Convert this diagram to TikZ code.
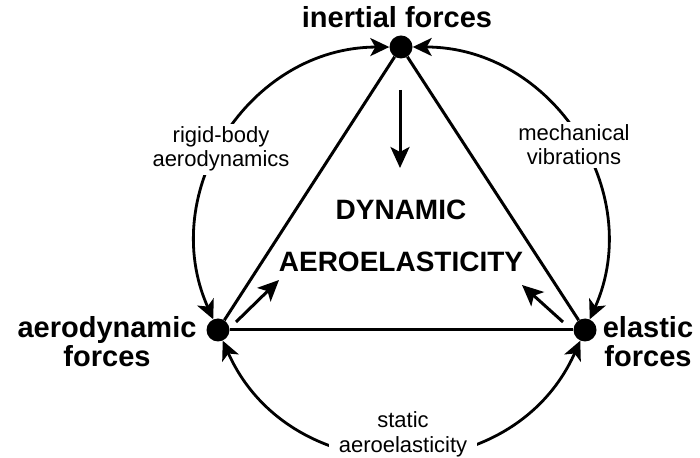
\documentclass[tikz,border=0pt]{standalone}
\usepackage{fontspec}
\setmainfont{Liberation Sans}
\usetikzlibrary{arrows.meta}
\begin{document}
\begin{tikzpicture}[x=1pt,y=1pt,
  dot/.style={circle,fill=black,inner sep=0pt,minimum size=23pt},
  edge/.style={line width=3pt},
  arcline/.style={line width=2.8pt,{Stealth[length=19pt,width=18pt,inset=5pt]}-{Stealth[length=19pt,width=18pt,inset=5pt]}},
  inarrow/.style={line width=3pt,-{Stealth[length=21pt,width=19pt,inset=5pt]}},
  biglabel/.style={font=\fontsize{29}{29}\selectfont\bfseries,align=center,inner sep=0pt,anchor=base},
  midlabel/.style={font=\fontsize{28}{28}\selectfont\bfseries,inner sep=0pt,anchor=base},
  smalllabel/.style={font=\fontsize{22}{24}\selectfont,align=center,fill=white,inner sep=3pt,anchor=base}]
\useasboundingbox (0,0) rectangle (700,457);
% dots
\node[dot] (top) at (401,410) {};
\node[dot] (left) at (218,127) {};
\node[dot] (right) at (585,127) {};
% triangle
\draw[edge] (top) -- (left);
\draw[edge] (top) -- (right);
\draw[edge] (left) -- (right);
% outer arcs
\draw[arcline] (top) to[bend right=57,looseness=1.1] (left);
\draw[arcline] (top) to[bend left=57,looseness=1.1] (right);
\draw[arcline] (left) to[bend right=66,looseness=1.2] (right);
% inner arrows
\coordinate (dA) at (400,367);
\coordinate (dB) at (400,289);
\draw[inarrow] (dA) -- (dB);
\coordinate (lA) at (236,135);
\coordinate (lB) at (279,177);
\draw[inarrow] (lA) -- (lB);
\coordinate (rA) at (563,135);
\coordinate (rB) at (522,172);
\draw[inarrow] (rA) -- (rB);
% labels
\node[biglabel] (inertial) at (397,429) {inertial forces};
\node[biglabel] (aero) at (107,90) {aerodynamic\\forces};
\node[biglabel] (elastic) at (648,90) {elastic\\forces};
\node[midlabel] (dyn) at (401,237) {DYNAMIC};
\node[midlabel] (aeroel) at (401,185) {AEROELASTICITY};
\node[smalllabel] (rigid) at (221,290) {rigid-body\\aerodynamics};
\node[smalllabel] (mech) at (574,292) {mechanical\\vibrations};
\node[smalllabel,inner xsep=10pt,inner ysep=6pt] (static) at (403,5) {static\\aeroelasticity};
\end{tikzpicture}
\end{document}
